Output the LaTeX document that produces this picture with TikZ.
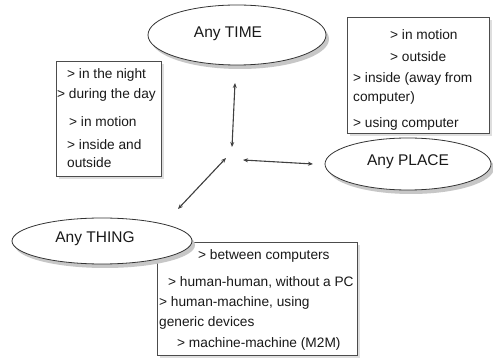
\documentclass[tikz,border=0pt]{standalone}
\usepackage{fontspec}
\setmainfont{Liberation Sans}
\usetikzlibrary{shapes.geometric,arrows.meta}
\begin{document}
\begin{tikzpicture}[x=1pt,y=-1pt,
  oval/.style={ellipse,draw=black!80,fill=white,line width=0.8pt,inner sep=0pt},
  ovalshadow/.style={ellipse,fill=black!22,draw=none,inner sep=0pt},
  ovaltext/.style={font=\fontsize{15.5}{18}\selectfont,text=black!90,inner sep=0pt},
  listbox/.style={draw=black!70,fill=white,line width=0.8pt,inner sep=0pt,anchor=north west},
  boxshadow/.style={fill=black!13,draw=none,inner sep=0pt,anchor=north west},
  item/.style={anchor=west,inner sep=0pt,font=\fontsize{13.7}{16}\selectfont,text height=10pt,text depth=1pt,text=black!90},
  link/.style={{Stealth[length=5pt,width=4pt]}-{Stealth[length=5pt,width=4pt]},line width=1.1pt,draw=black!75}
]
\useasboundingbox (0,0) rectangle (493,358);
\fill[white] (0,0) rectangle (493,358);

% ---- boxes
\node[boxshadow,minimum width=105pt,minimum height=115pt] (timeboxs) at (59,64) {};
\node[listbox,minimum width=105pt,minimum height=115pt] (timebox) at (56,61) {};
\node[boxshadow,minimum width=142pt,minimum height=116pt] (placeboxs) at (350,20) {};
\node[listbox,minimum width=142pt,minimum height=116pt] (placebox) at (347,17) {};
\node[boxshadow,minimum width=200pt,minimum height=113pt] (thingboxs) at (160,245) {};
\node[listbox,minimum width=200pt,minimum height=113pt] (thingbox) at (157,242) {};

% ---- ellipses
\node[ovalshadow,minimum width=178pt,minimum height=60pt] (times) at (240,39) {};
\node[oval,minimum width=178pt,minimum height=60pt] (time) at (237,35) {};
\node[ovalshadow,minimum width=166pt,minimum height=52pt] (places) at (411,168) {};
\node[oval,minimum width=166pt,minimum height=52pt] (place) at (408,164) {};
\node[ovalshadow,minimum width=180pt,minimum height=46pt] (things) at (105,245) {};
\node[oval,minimum width=180pt,minimum height=46pt] (thing) at (102,241) {};

\node[ovaltext] (timet) at (228,34) {Any TIME};
\node[ovaltext] (placet) at (408,162) {Any PLACE};
\node[ovaltext] (thingt) at (95,239) {Any THING};

% ---- list items
\node[item] (t1) at (67,74) {> in the night};
\node[item] (t2) at (57,94) {> during the day};
\node[item] (t3) at (69,122) {> in motion};
\node[item] (t4) at (67,145) {> inside and};
\node[item] (t5) at (67,163) {outside};

\node[item] (p1) at (390,35) {> in motion};
\node[item] (p2) at (390,57) {> outside};
\node[item] (p3) at (353,78) {> inside (away from};
\node[item] (p4) at (353,97) {computer)};
\node[item] (p5) at (353,123) {> using computer};

\node[item] (h1) at (198,255) {> between computers};
\node[item] (h2) at (168,282) {> human-human, without a PC};
\node[item] (h3) at (159,302) {> human-machine, using};
\node[item] (h4) at (159,322) {generic devices};
\node[item] (h5) at (177,343) {> machine-machine (M2M)};

% ---- arrows
\coordinate (vt) at (235,83);
\coordinate (vb) at (232,147);
\coordinate (hl) at (243,160);
\coordinate (hr) at (313,164);
\coordinate (dt) at (226,158);
\coordinate (db) at (178,209);
\draw[link] (vt) -- (vb);
\draw[link] (hl) -- (hr);
\draw[link] (dt) -- (db);
\end{tikzpicture}
\end{document}
